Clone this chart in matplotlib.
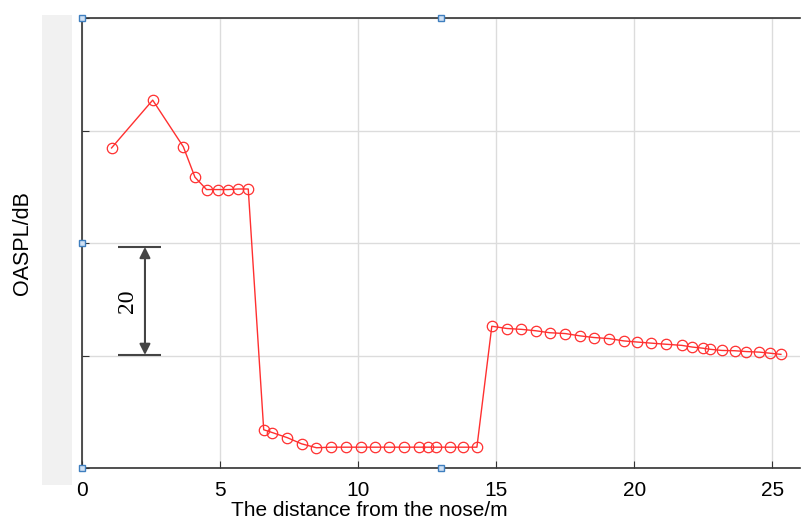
import matplotlib.pyplot as plt
from matplotlib.patches import Rectangle

# OASPL along the fuselage (dB, arbitrary offset)
distance = [1.07, 2.56, 3.67, 4.09, 4.51, 4.91, 5.29, 5.66, 6.02,
            6.58, 6.89, 7.43, 7.95, 8.49, 9.01, 9.55, 10.09, 10.6, 11.12,
            11.65, 12.19, 12.53, 12.81, 13.31, 13.8, 14.3,
            14.84, 15.39, 15.91, 16.43, 16.93, 17.5, 18.02, 18.53, 19.1,
            19.61, 20.09, 20.61, 21.15, 21.72, 22.1, 22.48, 22.75, 23.17,
            23.63, 24.05, 24.53, 24.93, 25.31]
oaspl = [56.9, 65.4, 57.1, 51.7, 49.5, 49.5, 49.5, 49.6, 49.6,
         6.8, 6.3, 5.4, 4.3, 3.6, 3.7, 3.7, 3.7, 3.7, 3.7,
         3.7, 3.7, 3.7, 3.7, 3.7, 3.7, 3.7,
         25.2, 24.8, 24.65, 24.4, 24.05, 23.9, 23.5, 23.2, 23.0,
         22.6, 22.4, 22.2, 22.0, 21.8, 21.5, 21.3, 21.1, 20.9,
         20.85, 20.7, 20.6, 20.4, 20.2]

x_ticks = [0, 5, 10, 15, 20, 25]
y_ticks = [0, 20, 40, 60, 80]
scale_bar = (20.1, 39.3)   # the "20 dB" bracket

fig = plt.figure(figsize=(8.01, 5.19), dpi=100)
ax = fig.add_axes([82 / 801, 1 - 468 / 519, 718 / 801, 450 / 519])

# grey side panel behind the y label
fig.patches.append(Rectangle((42 / 801, 1 - 485 / 519), 30 / 801, 470 / 519,
                             transform=fig.transFigure, facecolor="#f1f1f1",
                             edgecolor="none", zorder=0))

ax.plot(distance, oaspl, color="#ff3030", lw=1, marker="o", ms=7.5,
        mfc="none", mec="#ff3030", mew=0.9, zorder=3)

ax.set_xlim(0, 26)
ax.set_ylim(0, 80)
ax.set_xticks(x_ticks)
ax.set_yticks(y_ticks)
ax.set_yticklabels([])
ax.tick_params(direction="in", length=5, color="#333333", labelsize=15,
               pad=9, top=False, right=False)
ax.grid(True, color="#dcdcdc", lw=1)
ax.set_axisbelow(True)
for s in ax.spines.values():
    s.set_color("#333333")
    s.set_linewidth(1.2)
ax.spines["right"].set_visible(False)

ax.set_xlabel("The distance from the nose/m", fontsize=15, labelpad=2,
              family="Liberation Sans")
ax.xaxis.set_label_coords(0.40, -0.073)
ax.set_ylabel("OASPL/dB", fontsize=15.5, labelpad=26, family="Liberation Sans")
for lab in ax.get_xticklabels():
    lab.set_family("Liberation Sans")

# 20 dB bracket
ax.hlines(scale_bar, 1.3, 2.86, color="#444444", lw=1.5, zorder=4)
ax.annotate("", xy=(2.28, scale_bar[0]), xytext=(2.28, scale_bar[1]),
            arrowprops=dict(arrowstyle="<|-|>", color="#444444", lw=1.5,
                            shrinkA=0, shrinkB=0, mutation_scale=16))
ax.text(1.63, sum(scale_bar) / 2, "20", rotation=90, ha="center", va="center",
        fontsize=17, family="Liberation Serif")

# selection handles
for hx, hy in [(0, 1), (0.5, 1), (0, 0.5), (0, 0), (0.5, 0)]:
    ax.plot(hx, hy, "s", ms=5, mfc="#cfe0f3", mec="#3f7fbf", mew=1,
            transform=ax.transAxes, clip_on=False, zorder=6)

fig.savefig("out.png", dpi=100)
